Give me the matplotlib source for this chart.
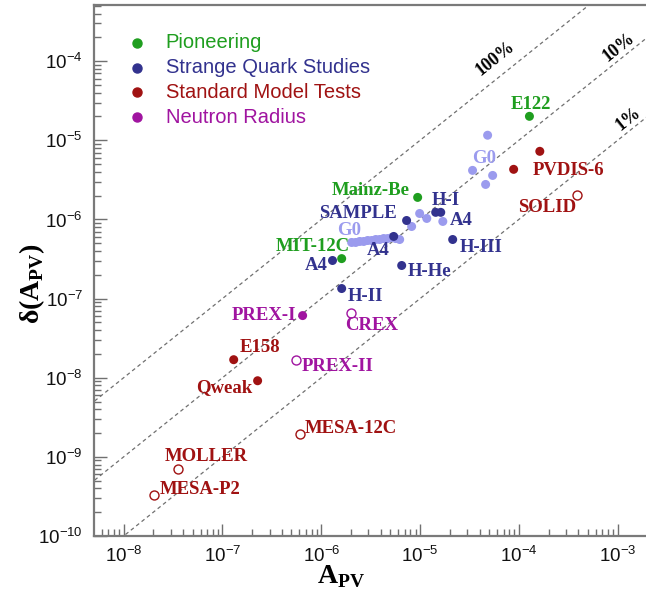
import matplotlib
matplotlib.use("Agg")
import matplotlib.pyplot as plt
from matplotlib.ticker import LogLocator, LogFormatterMathtext, NullFormatter, FixedLocator
import numpy as np

plt.rcParams['font.family'] = ['Liberation Sans', 'DejaVu Sans']
plt.rcParams['mathtext.fontset'] = 'custom'
plt.rcParams['mathtext.rm'] = 'Liberation Sans'
plt.rcParams['mathtext.bf'] = 'Liberation Serif:bold'

# ---------------- data ----------------
pioneer_names = ["E122", "Mainz-Be", "MIT-12C"]
pioneer_x = [1.28e-4, 9.46e-6, 1.61e-6]
pioneer_y = [2.01e-5, 1.90e-6, 3.20e-7]

strange_names = ["SAMPLE", "H-I", "", "A4", "A4", "H-III", "H-He", "H-II"]
strange_x = [7.31e-6, 1.44e-5, 1.62e-5, 5.41e-6, 1.30e-6, 2.14e-5, 6.52e-6, 1.61e-6]
strange_y = [9.70e-7, 1.23e-6, 1.23e-6, 6.10e-7, 3.03e-7, 5.58e-7, 2.62e-7, 1.34e-7]

g0_x = [2.03e-6, 2.23e-6, 2.45e-6, 2.69e-6, 2.95e-6, 3.24e-6, 3.56e-6, 3.90e-6,
        4.28e-6, 4.70e-6, 5.16e-6, 5.66e-6, 6.22e-6,
        8.22e-6, 9.91e-6, 1.17e-5, 1.70e-5,
        3.40e-5, 4.83e-5, 5.43e-5, 4.61e-5]
g0_y = [5.12e-7, 5.12e-7, 5.27e-7, 5.27e-7, 5.42e-7, 5.42e-7, 5.58e-7, 5.58e-7,
        5.74e-7, 5.74e-7, 5.91e-7, 5.74e-7, 5.58e-7,
        8.15e-7, 1.19e-6, 1.03e-6, 9.44e-7,
        4.17e-6, 1.16e-5, 3.60e-6, 2.77e-6]

sm_names = ["PVDIS-6", "", "SOLID", "E158", "Qweak", "MESA-12C", "MOLLER", "MESA-P2"]
sm_x = [8.86e-5, 1.63e-4, 3.85e-4, 1.30e-7, 2.27e-7, 6.04e-7, 3.52e-8, 2.01e-8]
sm_y = [4.30e-6, 7.26e-6, 2.01e-6, 1.69e-8, 9.16e-9, 1.95e-9, 7.05e-10, 3.30e-10]
sm_future = [False, False, True, False, False, True, True, True]

nr_names = ["PREX-I", "CREX", "PREX-II"]
nr_x = [6.48e-7, 1.99e-6, 5.51e-7]
nr_y = [6.10e-8, 6.65e-8, 1.69e-8]
nr_future = [False, True, True]

ratios = [1.0, 0.1, 0.01]
ratio_labels = ["100%", "10%", "1%"]

x_major = [1e-8, 1e-7, 1e-6, 1e-5, 1e-4, 1e-3]
y_major = [1e-10, 1e-9, 1e-8, 1e-7, 1e-6, 1e-5, 1e-4]

legend_labels = ["Pioneering", "Strange Quark Studies", "Standard Model Tests", "Neutron Radius"]

# ---------------- style ----------------
C_GREEN = "#1f9e1f"
C_BLUE = "#32328e"
C_LIGHT = "#9b9bee"
C_RED = "#a01212"
C_PURPLE = "#a014a0"
legend_colors = [C_GREEN, C_BLUE, C_RED, C_PURPLE]

fig = plt.figure(figsize=(6.46, 5.98), dpi=100)
W, H = 646, 598
ax = fig.add_axes([94 / W, (H - 536) / H, (646 - 94) / W, (536 - 5) / H])
ax.set_xscale("log")
ax.set_yscale("log")
ax.set_xlim(10 ** -8.30, 10 ** -2.713)
ax.set_ylim(1e-10, 10 ** -3.29)

# reference lines
xl = np.logspace(-9, -2, 50)
for r in ratios:
    ax.plot(xl, r * xl, linestyle=(0, (3, 2.5)), color="#707070", lw=0.9, zorder=1)

# percent labels
lab_x = [10 ** -4.235, 10 ** -2.99, 10 ** -2.889]
for r, t, lx, dy in zip(ratios, ratio_labels, lab_x, [21, 13, 13]):
    ax.annotate(t, xy=(lx, r * lx), xytext=(0, dy), textcoords="offset pixels",
                ha="center", va="center", rotation=38.6, fontsize=13,
                fontfamily="Liberation Serif", fontweight="bold", color="black")

MS = 42
ax.scatter(g0_x, g0_y, s=MS, color=C_LIGHT, edgecolors="none", zorder=3)
ax.scatter(strange_x, strange_y, s=MS, color=C_BLUE, edgecolors="none", zorder=4)
ax.scatter(pioneer_x, pioneer_y, s=MS, color=C_GREEN, edgecolors="none", zorder=4)
for x, y, f in zip(sm_x, sm_y, sm_future):
    if f:
        ax.scatter([x], [y], s=MS, facecolors="white", edgecolors=C_RED, linewidths=1.0, zorder=4)
    else:
        ax.scatter([x], [y], s=MS, color=C_RED, edgecolors="none", zorder=4)
for x, y, f in zip(nr_x, nr_y, nr_future):
    if f:
        ax.scatter([x], [y], s=MS, facecolors="white", edgecolors=C_PURPLE, linewidths=1.0, zorder=4)
    else:
        ax.scatter([x], [y], s=MS, color=C_PURPLE, edgecolors="none", zorder=4)

LBL = dict(fontfamily="Liberation Serif", fontweight="bold", fontsize=13.5,
           textcoords="offset pixels", va="center", zorder=5)

def label(x, y, text, color, ha, dx, dy):
    ax.annotate(text, xy=(x, y), xytext=(dx, dy), ha=ha, color=color, **LBL)

p_off = [("center", 1, 12), ("right", -8, 7), ("right", 8, 12)]
for n, x, y, (ha, dx, dy) in zip(pioneer_names, pioneer_x, pioneer_y, p_off):
    label(x, y, n, C_GREEN, ha, dx, dy)

s_off = [("right", -10, 7), ("left", -4, 12), ("left", 9, -8), ("right", -4, -14),
         ("right", -5, -5), ("left", 7, -8), ("left", 6, -6), ("left", 6, -8)]
for n, x, y, (ha, dx, dy) in zip(strange_names, strange_x, strange_y, s_off):
    if n:
        label(x, y, n, C_BLUE, ha, dx, dy)
label(strange_x[2], strange_y[2], "A4", C_BLUE, "left", 9, -8)
label(g0_x[0], g0_y[0], "G0", C_LIGHT, "left", -14, 12)
label(g0_x[17], g0_y[17], "G0", C_LIGHT, "left", 0, 12)

sm_off = [("left", 19, -1), None, ("right", 0, -12), ("left", 6, 12),
          ("right", -5, -7), ("left", 5, 5), ("left", -13, 12), ("left", 6, 5)]
for n, x, y, o in zip(sm_names, sm_x, sm_y, sm_off):
    if n and o:
        label(x, y, n, C_RED, o[0], o[1], o[2])

nr_off = [("right", -6, 0), ("left", -6, -13), ("left", 6, -7)]
for n, x, y, (ha, dx, dy) in zip(nr_names, nr_x, nr_y, nr_off):
    label(x, y, n, C_PURPLE, ha, dx, dy)

# legend (manual)
for i, (t, c) in enumerate(zip(legend_labels, legend_colors)):
    yy = 0.929 - i * 0.0468
    ax.plot([0.078], [yy], "o", ms=6.5, color=c, transform=ax.transAxes, clip_on=False)
    ax.text(0.130, yy, t, color=c, fontsize=14.5, va="center", ha="left",
            transform=ax.transAxes, fontfamily="Liberation Sans")

for s in ["left", "bottom", "top"]:
    ax.spines[s].set_color("#7a7a7a")
    ax.spines[s].set_linewidth(1.6)
ax.spines["right"].set_visible(False)

ax.xaxis.set_major_locator(FixedLocator(x_major))
ax.yaxis.set_major_locator(FixedLocator(y_major))
ax.xaxis.set_minor_locator(LogLocator(base=10, subs=np.arange(2, 10), numticks=20))
ax.yaxis.set_minor_locator(LogLocator(base=10, subs=np.arange(2, 10), numticks=20))
ax.xaxis.set_major_formatter(LogFormatterMathtext())
ax.yaxis.set_major_formatter(LogFormatterMathtext())
ax.xaxis.set_minor_formatter(NullFormatter())
ax.yaxis.set_minor_formatter(NullFormatter())
ax.tick_params(which="both", direction="in", color="#707070", width=1.0,
               top=False, right=False, labelsize=13.5, labelcolor="#111111")
ax.tick_params(which="major", length=9)
ax.tick_params(which="minor", length=5)
ax.tick_params(axis="y", which="major", pad=8)
ax.tick_params(axis="x", which="major", pad=7)

fig.text(341 / W, 1 - 577 / H, r"A$_{\mathbf{PV}}$", ha="center", va="center",
         fontsize=20, fontfamily="Liberation Serif", fontweight="bold")
fig.text(32 / W, 1 - 284 / H, r"δ(A$_{\mathbf{PV}}$)", ha="center", va="center",
         rotation=90, fontsize=20, fontfamily="Liberation Serif", fontweight="bold")

fig.savefig("out.png", dpi=100)
